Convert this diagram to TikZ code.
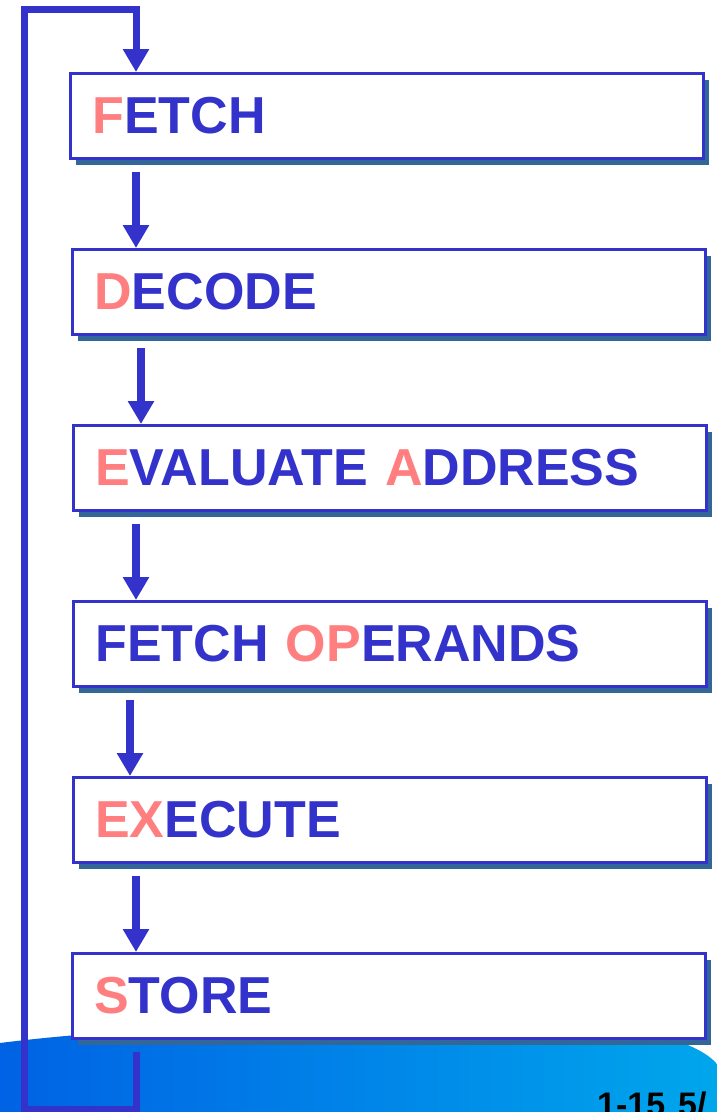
\documentclass[tikz,border=0pt]{standalone}
\usepackage{fontspec}
\setmainfont{Liberation Sans}
\usetikzlibrary{arrows.meta,shadows}
\definecolor{boxblue}{HTML}{3333CC}
\definecolor{hilite}{HTML}{FF7F80}
\definecolor{shadowblue}{HTML}{336699}
\definecolor{swooshdark}{HTML}{0062E4}
\definecolor{swooshlight}{HTML}{00A6EC}
\newcommand{\hl}[1]{\textcolor{hilite}{#1}}

\begin{document}
\begin{tikzpicture}[x=1pt, y=-1pt,
  stepbox/.style={draw=boxblue, line width=2.5pt, fill=white, anchor=north west,
    minimum height=85pt, text width=589pt, inner xsep=22pt, inner ysep=0pt, align=left,
    text=boxblue, font=\fontsize{52}{60}\selectfont\bfseries,
    drop shadow={shadow xshift=6pt, shadow yshift=-7pt, fill=shadowblue, opacity=1}},
  flow/.style={draw=boxblue, line width=8pt, -{Triangle[width=25pt,length=23pt]}},
  back/.style={draw=boxblue, line width=7pt, line join=miter, -{Triangle[width=25pt,length=23pt]}}]

\useasboundingbox (0,0) rectangle (717,1112) ;

\shade[left color=swooshdark, right color=swooshlight] (0,1043) .. controls (150,1024) and (450,1012) .. (640,1030) .. controls (680,1040) and (705,1050) .. (717,1064) -- (717,1112) -- (0,1112) -- cycle ;

\node[stepbox] (fetch) at (69,72) {\hl{F}ETCH} ;
\node[stepbox] (decode) at (71,248) {\hl{D}ECODE} ;
\node[stepbox] (evaladdr) at (72,424) {\hl{E}VALUATE \hl{A}DDRESS} ;
\node[stepbox] (fetchops) at (72,600) {FETCH \hl{OP}ERANDS} ;
\node[stepbox] (execute) at (72,776) {\hl{EX}ECUTE} ;
\node[stepbox] (store) at (71,952) {\hl{S}TORE} ;

\draw[flow] ([xshift=67pt,yshift=-12pt]fetch.south west) -- ([xshift=65pt]decode.north west) ;
\draw[flow] ([xshift=70pt,yshift=-12pt]decode.south west) -- ([xshift=69pt]evaladdr.north west) ;
\draw[flow] ([xshift=64pt,yshift=-12pt]evaladdr.south west) -- ([xshift=64pt]fetchops.north west) ;
\draw[flow] ([xshift=58pt,yshift=-12pt]fetchops.south west) -- ([xshift=58pt]execute.north west) ;
\draw[flow] ([xshift=64pt,yshift=-12pt]execute.south west) -- ([xshift=65pt]store.north west) ;

\coordinate (loopbl) at (24,1109) ;
\coordinate (looptl) at (24,9) ;
\draw[back] ([xshift=65pt,yshift=-12pt]store.south west) |- (loopbl) -- (looptl) -| ([xshift=67pt]fetch.north west) ;

\node[anchor=base west, inner sep=0pt, font=\fontsize{34}{40}\selectfont\bfseries] (slidenum) at (597,1116) {1-15} ;
\node[anchor=base west, inner sep=0pt, font=\fontsize{34}{40}\selectfont\bfseries] (slidedate) at (678,1116) {5/} ;
\end{tikzpicture}
\end{document}
